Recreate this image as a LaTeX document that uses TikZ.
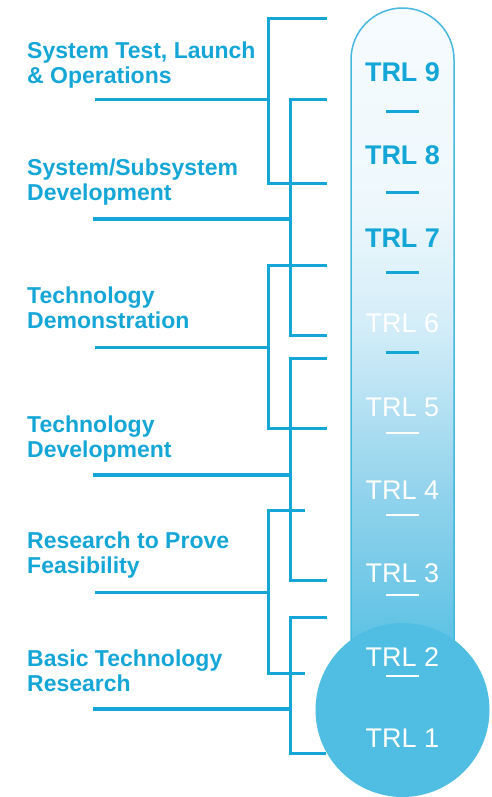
\documentclass[tikz,border=0pt]{standalone}
\usepackage{fontspec}
\setmainfont{Liberation Sans}
\usepackage{xcolor}

\definecolor{trlblue}{RGB}{20,166,214}
\definecolor{tubeline}{RGB}{70,184,224}
\definecolor{bulbfill}{RGB}{80,189,226}
\pgfdeclareverticalshading{tubeshade}{100bp}{color(0bp)=(bulbfill); color(25bp)=(bulbfill);
  color(29bp)=(rgb,255:red,93;green,194;blue,228); color(40bp)=(rgb,255:red,146;green,211;blue,236);
  color(52bp)=(rgb,255:red,211;green,237;blue,248); color(61bp)=(rgb,255:red,238;green,248;blue,252);
  color(75bp)=(rgb,255:red,246;green,251;blue,254); color(100bp)=(rgb,255:red,246;green,251;blue,254)}

\tikzset{
  trlbold/.style={inner sep=0pt, font=\bfseries\fontsize{27}{27}\selectfont, text=trlblue},
  trllight/.style={inner sep=0pt, font=\fontsize{27}{27}\selectfont, text=white},
  grplabel/.style={anchor=north west, align=left, inner sep=0pt, text=trlblue,
    font=\bfseries\fontsize{23}{25}\selectfont},
  bracket/.style={draw=trlblue, line width=3pt},
  stem/.style={draw=trlblue, line width=3pt},
  thickstem/.style={draw=trlblue, line width=4.5pt}
}

\begin{document}
\begin{tikzpicture}[x=1pt,y=-1pt]
		\useasboundingbox (0,0) rectangle (492,797);

		%Tube
		\shade[shading=tubeshade, draw=tubeline, line width=1.5pt]
			(351,700)--(351,59.5) arc[start angle=180, end angle=360, radius=51.5]--(454,700);
		%Bulb
		\fill[bulbfill] (402.5,710) circle (87);

		%Levels
		\node[trlbold] (trl9) at (402.5,72) {TRL 9};
		\node[trlbold] (trl8) at (402.5,155) {TRL 8};
		\node[trlbold] (trl7) at (402.5,238) {TRL 7};
		\node[trllight] (trl6) at (402.5,323) {TRL 6};
		\node[trllight] (trl5) at (402.5,407) {TRL 5};
		\node[trllight] (trl4) at (402.5,490) {TRL 4};
		\node[trllight] (trl3) at (402.5,573) {TRL 3};
		\node[trllight] (trl2) at (402.5,657) {TRL 2};
		\node[trllight] (trl1) at (402.5,738) {TRL 1};

		\foreach \y/\c/\w in {112/trlblue/3,192/trlblue/3,272/trlblue/3,352/trlblue/3,
			433/white/2,515/white/2,595/white/2,676/white/2}
			\draw[\c, line width=\w pt] (386,\y)--(419,\y);

		%Groups
		\node[grplabel] (ops) at (27,42) {System Test, Launch\\\& Operations};
		\node[grplabel] (sysdev) at (27,159) {System/Subsystem\\Development};
		\node[grplabel] (demo) at (27,287) {Technology\\Demonstration};
		\node[grplabel] (techdev) at (27,416) {Technology\\Development};
		\node[grplabel] (feas) at (27,532) {Research to Prove\\Feasibility};
		\node[grplabel] (basic) at (27,650) {Basic Technology\\Research};

		\coordinate (t1) at (327,19);  \coordinate (b1) at (327,183); \coordinate (j1) at (268,100); \coordinate (s1) at (95,100);
		\coordinate (t2) at (327,100); \coordinate (b2) at (327,335); \coordinate (j2) at (290,219); \coordinate (s2) at (93,219);
		\coordinate (t3) at (327,265); \coordinate (b3) at (327,428); \coordinate (j3) at (268,347); \coordinate (s3) at (95,347);
		\coordinate (t4) at (327,358); \coordinate (b4) at (327,580); \coordinate (j4) at (290,475); \coordinate (s4) at (93,475);
		\coordinate (t5) at (305,510); \coordinate (b5) at (305,673); \coordinate (j5) at (268,592); \coordinate (s5) at (95,592);
		\coordinate (t6) at (327,617); \coordinate (b6) at (326,753); \coordinate (j6) at (290,709); \coordinate (s6) at (93,709);

		\draw[bracket] (t1) -| (j1) |- (b1);
		\draw[bracket] (t2) -| (j2) |- (b2);
		\draw[bracket] (t3) -| (j3) |- (b3);
		\draw[bracket] (t4) -| (j4) |- (b4);
		\draw[bracket] (t5) -| (j5) |- (b5);
		\draw[bracket] (t6) -| (j6) |- (b6);

		\draw[stem] (s1)--(j1);
		\draw[thickstem] (s2)--(j2);
		\draw[stem] (s3)--(j3);
		\draw[thickstem] (s4)--(j4);
		\draw[stem] (s5)--(j5);
		\draw[thickstem] (s6)--(j6);
	\end{tikzpicture}
\end{document}
